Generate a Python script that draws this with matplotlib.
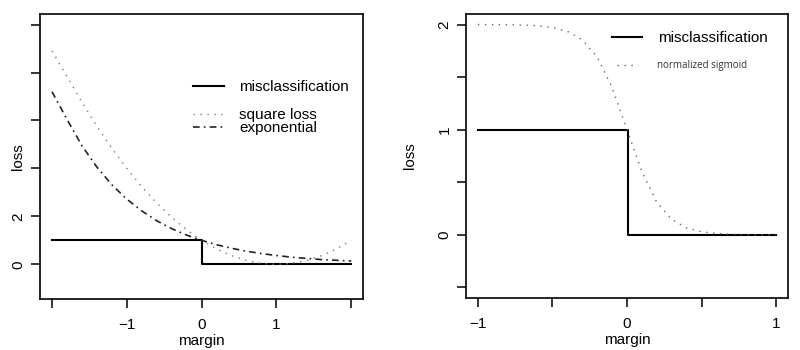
import matplotlib
matplotlib.use("Agg")
import matplotlib.pyplot as plt

plt.rcParams['font.family'] = ['Liberation Sans', 'DejaVu Sans']

# margin grid and loss values for the left panel
margin_l = [-2.0, -1.8, -1.6, -1.4, -1.2, -1.0, -0.8, -0.6, -0.4, -0.2, 0.0,
            0.2, 0.4, 0.6, 0.8, 1.0, 1.2, 1.4, 1.6, 1.8, 2.0]
square_loss = [8.9, 7.84, 6.76, 5.76, 4.84, 4.0, 3.24, 2.56, 1.96, 1.44, 1.0,
               0.64, 0.36, 0.16, 0.04, 0.0, 0.04, 0.16, 0.36, 0.64, 1.0]
exp_loss = [7.2, 6.05, 4.95, 4.06, 3.32, 2.72, 2.23, 1.82, 1.49, 1.22, 1.0,
            0.82, 0.67, 0.55, 0.45, 0.37, 0.30, 0.25, 0.20, 0.17, 0.14]
step_x_l = [-2, 0, 0, 2]
step_y_l = [1, 1, 0, 0]

# margin grid and loss values for the right panel
margin_r = [-1.0, -0.9, -0.8, -0.7, -0.6, -0.5, -0.4, -0.3, -0.2, -0.1, 0.0,
            0.1, 0.2, 0.3, 0.4, 0.5, 0.6, 0.7, 0.8, 0.9, 1.0]
sigmoid = [2.0, 1.999, 1.998, 1.995, 1.988, 1.972, 1.935, 1.855, 1.691, 1.401, 1.0,
           0.599, 0.309, 0.145, 0.065, 0.028, 0.012, 0.005, 0.002, 0.001, 0.0]
step_x_r = [-1, 0.01, 0.01, 1]
step_y_r = [1, 1, 0, 0]

FS = 11


def r_style(ax, xticks, xlabels, yticks, ylabels):
    for s in ax.spines.values():
        s.set_linewidth(1.2)
    ax.set_xticks(xticks)
    ax.set_xticklabels(xlabels)
    ax.set_yticks(yticks)
    ax.set_yticklabels(ylabels, rotation=90, va='center')
    ax.tick_params(length=6.5, width=1.1, labelsize=FS)
    ax.tick_params(axis='x', pad=7)
    ax.tick_params(axis='y', pad=4)
    ax.set_xlabel("margin", fontsize=FS, labelpad=2)


fig = plt.figure(figsize=(8, 3.5), dpi=100)

# left: misclassification, square and exponential loss
ax1 = fig.add_axes([0.05, 0.146, 0.404, 0.814])
l1, = ax1.plot(step_x_l, step_y_l, color='black', lw=1.5)
l2, = ax1.plot(margin_l, square_loss, color='#7a7a7a', lw=1.0, linestyle=(0, (1, 4)))
l3, = ax1.plot(margin_l, exp_loss, color='#222222', lw=1.2, linestyle=(0, (4, 2.5, 1, 2.5)))
ax1.set_xlim(-2.16, 2.16)
ax1.set_ylim(-1.44, 10.44)
r_style(ax1, [-2, -1, 0, 1, 2], ['', '\u22121', '0', '1', ''],
        [0, 2, 4, 6, 8, 10], ['0', '2', '', '', '', ''])
ax1.set_ylabel("loss", fontsize=FS, labelpad=-10)

leg_kw = dict(frameon=False, borderpad=0, borderaxespad=0, handlelength=2.0,
              handletextpad=1.0, fontsize=FS, loc='center left')
lg = ax1.legend([l1], ["misclassification"], bbox_to_anchor=(0.474, 0.744), **leg_kw)
ax1.add_artist(lg)
ax1.legend([l2, l3], ["square loss", "exponential"], bbox_to_anchor=(0.474, 0.622),
           labelspacing=-0.05, **leg_kw)

# right: misclassification and normalized sigmoid
ax2 = fig.add_axes([0.5825, 0.149, 0.4025, 0.811])
m1, = ax2.plot(step_x_r, step_y_r, color='black', lw=1.5)
m2, = ax2.plot(margin_r, sigmoid, color='#666666', lw=1.0, linestyle=(0, (1, 4)))
ax2.set_xlim(-1.08, 1.08)
ax2.set_ylim(-0.6, 2.1)
r_style(ax2, [-1, -0.5, 0, 0.5, 1], ['\u22121', '', '0', '', '1'],
        [-0.5, 0, 0.5, 1, 1.5, 2], ['', '0', '', '1', '', '2'])
ax2.set_ylabel("loss", fontsize=FS, labelpad=15)

lg2 = ax2.legend([m1], ["misclassification"], bbox_to_anchor=(0.453, 0.915), **leg_kw)
ax2.add_artist(lg2)
leg_small = ax2.legend([m2], ["normalized sigmoid"], bbox_to_anchor=(0.47, 0.817),
                       frameon=False, borderpad=0, borderaxespad=0, handlelength=2.1,
                       handletextpad=2.0, loc='center left',
                       prop={'family': 'Open Sans', 'size': 7})
for t in leg_small.get_texts():
    t.set_color('#333333')

fig.savefig("out.png", dpi=100)
